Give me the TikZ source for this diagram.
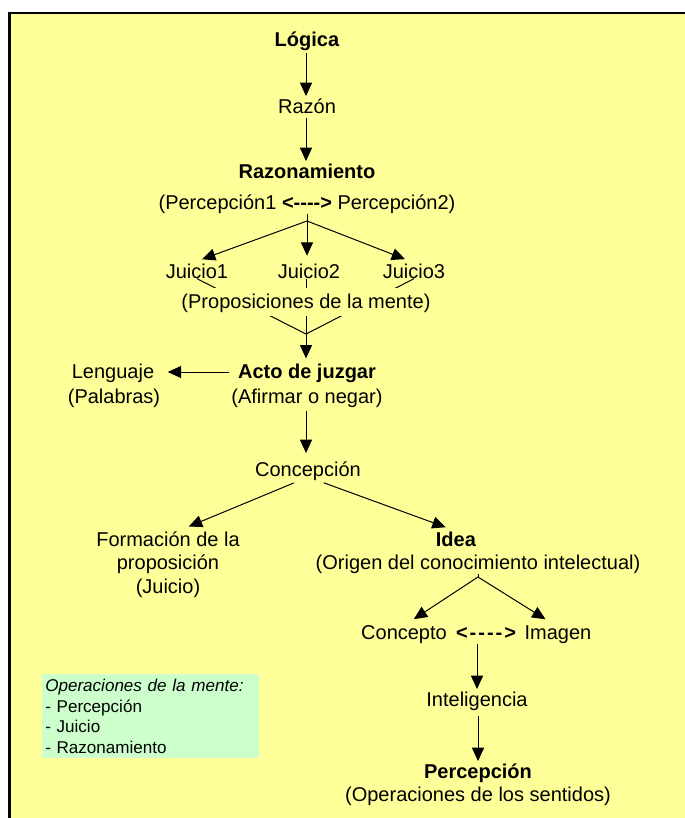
\documentclass[tikz,border=0pt]{standalone}
\usepackage{fontspec}
\setmainfont{Liberation Sans}
\usetikzlibrary{arrows.meta}
\definecolor{fondo}{HTML}{FFFF99}
\definecolor{verde}{HTML}{CCFFCC}
\newcommand{\guion}{\mbox{-}}
\newcommand{\dobleflecha}{\textbf{<\guion\guion\guion\guion>}}
\newcommand{\dobleancha}{\textbf{<\kern1.5pt\guion\kern1.5pt\guion\kern1.5pt\guion\kern1.5pt\guion\kern1.5pt>}}

\begin{document}
\begin{tikzpicture}[x=0.75pt,y=-0.75pt,
    txt/.style={font=\fontsize{15}{17.5}\selectfont, inner sep=1pt, text height=12pt, text depth=2pt},
    flecha/.style={-{Triangle[width=9pt,length=10pt]}, line width=0.75pt},
    linea/.style={line width=0.75pt}]
  \useasboundingbox (0,0) rectangle (685,818);
  \fill[fondo] (9,13) rectangle (685,818);
  \draw[line width=2pt] (9.5,818) -- (9.5,13) -- (685,13);

  \node[txt] (logica) at (307,40) {\textbf{Lógica}};
  \node[txt] (razon) at (307,107) {Razón};
  \node[txt] (razonamiento) at (307,172) {\textbf{Razonamiento}};
  \node[txt] (percepciones) at (307,203) {(Percepción1 \dobleflecha{} Percepción2)};
  \coordinate (reparto) at (307,221);

  \node[txt] (juicio1) at (197,272) {Juicio1};
  \node[txt] (juicio2) at (309,272) {Juicio2};
  \node[txt] (juicio3) at (414,272) {Juicio3};
  \coordinate (union) at (306,334);

  \node[txt] (acto) at (307,372) {\textbf{Acto de juzgar}};
  \node[txt] (afirmar) at (307,397) {(Afirmar o negar)};
  \node[txt] (lenguaje) at (113,372) {Lenguaje};
  \node[txt] (palabras) at (114,397) {(Palabras)};

  \node[txt] (concepcion) at (308,470) {Concepción};
  \node[txt] (formacion1) at (168,540) {Formación de la};
  \node[txt] (formacion2) at (168,563) {proposición};
  \node[txt] (formacion3) at (168,587) {(Juicio)};
  \node[txt] (idea) at (456,540) {\textbf{Idea}};
  \node[txt] (origen) at (478,563) {(Origen del conocimiento intelectual)};
  \coordinate (reparto2) at (478,577);

  \node[txt] (concepto) at (404,633) {Concepto};
  \node[txt] (doble) at (486,633) {\dobleancha};
  \node[txt] (imagen) at (558,633) {Imagen};
  \node[txt] (inteligencia) at (477,700) {Inteligencia};
  \node[txt] (percepcion) at (478,772) {\textbf{Percepción}};
  \node[txt] (sentidos) at (478,795) {(Operaciones de los sentidos)};

  \node[fill=verde, anchor=north west, text width=158pt, inner xsep=2.25pt, inner ysep=3pt,
        minimum height=63pt, align=left, font=\fontsize{12.8}{15.5}\selectfont]
    (operaciones) at (42,674) {\textit{Operaciones de la mente:}\\- Percepción\\- Juicio\\- Razonamiento};

  \draw[flecha, shorten <=1.5pt] (logica.south -| 306,0) -- (razon.north -| 306,0);
  \draw[flecha] (razon.south -| 306,0) -- (razonamiento.north -| 306,0);
  \draw[linea] (percepciones.south -| reparto) -- (reparto);
  \draw[flecha, shorten >=4pt] (reparto) -- (juicio1.north);
  \draw[flecha, shorten >=4pt] (reparto) -- (juicio2.north -| reparto);
  \draw[flecha, shorten >=4pt] (reparto) -- ([xshift=-3pt]juicio3.north);

  \draw[linea] (juicio1.base) -- (union);
  \draw[linea] (juicio2.base -| union) -- (union);
  \draw[linea] (juicio3.base) -- (union);
  \node[txt, fill=fondo, inner xsep=2pt, text height=14pt, text depth=4.5pt] (proposiciones) at (306,302) {(Proposiciones de la mente)};
  \draw[flecha, shorten >=2pt] (union) -- (acto.north -| union);

  \draw[flecha, shorten <=6pt, shorten >=9pt] (acto.west) -- (lenguaje.east);
  \draw[flecha, shorten <=2pt, shorten >=4.5pt] (afirmar.south -| 306,0) -- (concepcion.north -| 306,0);
  \draw[flecha, shorten <=4pt, shorten >=5pt] ([xshift=-7pt]concepcion.south) -- ([xshift=11pt]formacion1.north);
  \draw[flecha, shorten <=4pt, shorten >=4pt] ([xshift=8pt]concepcion.south) -- ([xshift=-4pt]idea.north);

  \draw[linea] (origen.south) -- (reparto2);
  \draw[flecha, shorten >=4pt] (reparto2) -- ([xshift=4pt]concepto.north);
  \draw[flecha, shorten >=4pt] (reparto2) -- ([xshift=-6pt]imagen.north);
  \draw[flecha] (doble.south -| inteligencia.north) -- (inteligencia.north);
  \draw[flecha, shorten <=4pt] (inteligencia.south -| percepcion.north) -- (percepcion.north);
\end{tikzpicture}
\end{document}
